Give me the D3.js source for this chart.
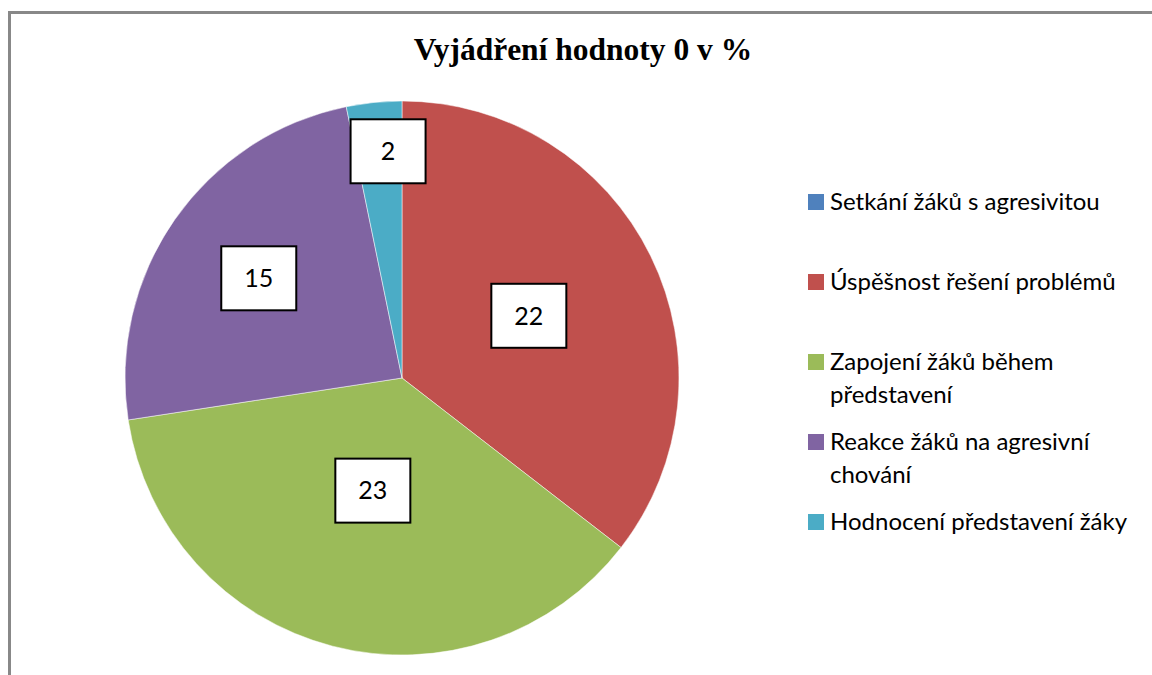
<!DOCTYPE html>
<html>
<head>
<meta charset="utf-8">
<script src="https://cdn.jsdelivr.net/npm/d3@7"></script>
<style>
  body { margin: 0; background: #fff; }
</style>
</head>
<body>
<div id="chart"></div>
<script>
// data
var categories = ["Setkání žáků s agresivitou", "Úspěšnost řešení problémů", "Zapojení žáků během představení", "Reakce žáků na agresivní chování", "Hodnocení představení žáky"];
var legendLines = [["Setkání žáků s agresivitou"], ["Úspěšnost řešení problémů"], ["Zapojení žáků během", "představení"], ["Reakce žáků na agresivní", "chování"], ["Hodnocení představení žáky"]];
var values = [0, 22, 23, 15, 2];
var colors = ["#4F81BD", "#C0504D", "#9BBB59", "#8064A2", "#4BACC6"];

// layout: label distance from centre as fraction of radius, plus small angle nudge (excel best fit)
var labelDist = [0.5, 0.51, 0.42, 0.63, 0.82];
var labelNudge = [0, 0, 0, 0, 0.04];

var w = 1152, h = 675;
var cx = 402, cy = 378, r = 277;

var svg = d3.select("#chart")
    .append("svg")
    .attr("width", w)
    .attr("height", h);

svg.append("rect")
    .attr("width", w).attr("height", h)
    .attr("fill", "#fff");

// outer frame
svg.append("rect")
    .attr("x", 9.5).attr("y", 12.5)
    .attr("width", 1200).attr("height", 700)
    .attr("fill", "none")
    .attr("stroke", "#888")
    .attr("stroke-width", 3);

// title
svg.append("text")
    .attr("x", 583)
    .attr("y", 60)
    .attr("text-anchor", "middle")
    .attr("font-family", "'Liberation Serif', 'DejaVu Serif', serif")
    .attr("font-weight", "bold")
    .attr("font-size", "31.5px")
    .attr("fill", "#000")
    .text("Vyjádření hodnoty 0 v %");

var pie = d3.pie().sort(null).value(function(d) { return d; });
var arcs = pie(values);
var arc = d3.arc().innerRadius(0).outerRadius(r);

var g = svg.append("g").attr("transform", "translate(" + cx + "," + cy + ")");

g.selectAll("path")
    .data(arcs)
    .enter()
    .append("path")
    .attr("d", arc)
    .attr("fill", function(d, i) { return colors[i]; })
    .attr("stroke", function(d) { return d.data > 0 ? "#fff" : "none"; })
    .attr("stroke-width", 0.5);

// data labels
var bw = 75, bh = 64;
var lab = g.selectAll("g.lab")
    .data(arcs.filter(function(d) { return d.data > 0; }))
    .enter()
    .append("g")
    .attr("class", "lab")
    .attr("transform", function(d) {
        var a = (d.startAngle + d.endAngle) / 2 + labelNudge[d.index];
        var k = labelDist[d.index] * r;
        return "translate(" + (Math.sin(a) * k) + "," + (-Math.cos(a) * k) + ")";
    });

lab.append("rect")
    .attr("x", -bw / 2).attr("y", -bh / 2)
    .attr("width", bw).attr("height", bh)
    .attr("fill", "#fff")
    .attr("stroke", "#000")
    .attr("stroke-width", 2);

lab.append("text")
    .attr("text-anchor", "middle")
    .attr("dy", "0.35em")
    .attr("font-family", "Lato, 'Open Sans', sans-serif")
    .attr("font-size", "25px")
    .attr("fill", "#000")
    .text(function(d) { return d.data; });

// legend
var legend = svg.append("g").attr("transform", "translate(808,0)");
var item = legend.selectAll("g")
    .data(categories)
    .enter()
    .append("g")
    .attr("transform", function(d, i) { return "translate(0," + (210 + i * 80) + ")"; });

item.append("rect")
    .attr("x", 0).attr("y", -16)
    .attr("width", 16).attr("height", 16)
    .attr("fill", function(d, i) { return colors[i]; });

item.each(function(d, i) {
    var t = d3.select(this).append("text")
        .attr("x", 22)
        .attr("font-family", "Lato, 'Open Sans', sans-serif")
        .attr("font-size", "24px")
        .attr("fill", "#000");
    legendLines[i].forEach(function(line, j) {
        t.append("tspan").attr("x", 22).attr("y", j * 33).text(line);
    });
});
</script>
</body>
</html>
